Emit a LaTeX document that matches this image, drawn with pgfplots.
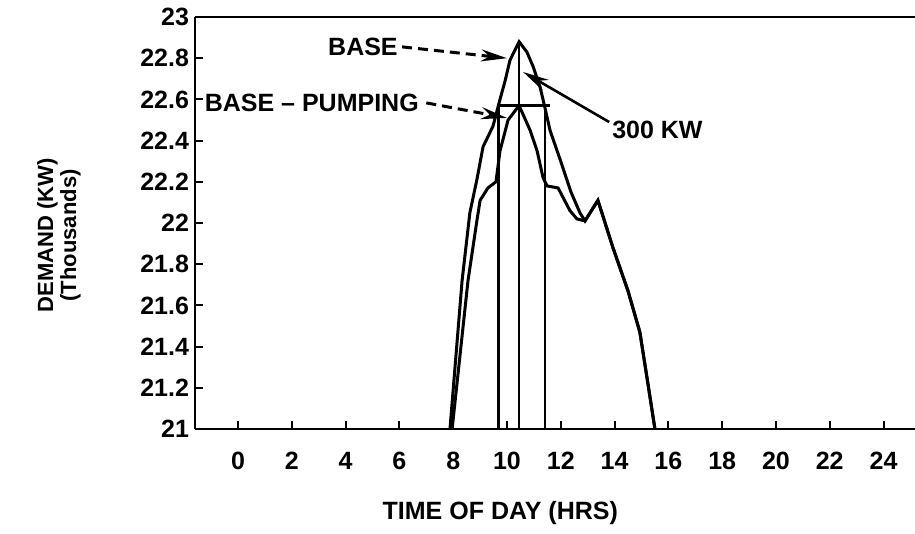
\documentclass[border=0pt]{standalone}
\usepackage{fontspec}
\setmainfont{Liberation Sans}
\usepackage{pgfplots}
\pgfplotsset{compat=1.18}
\usetikzlibrary{arrows.meta}

\pgfplotstableread{
h d
7.88 21.00
8.33 21.72
8.62 22.05
8.88 22.21
9.11 22.37
9.48 22.47
9.74 22.60
9.93 22.69
10.11 22.79
10.45 22.88
10.74 22.83
10.97 22.76
11.23 22.66
11.41 22.56
11.60 22.45
11.97 22.31
12.38 22.15
12.71 22.05
12.90 22.01
13.38 22.11
13.94 21.88
14.50 21.67
14.94 21.47
15.24 21.22
15.50 21.00
}\base

\pgfplotstableread{
h d
7.96 21.00
8.55 21.72
8.88 22.01
9.00 22.11
9.29 22.17
9.59 22.20
9.74 22.35
10.04 22.50
10.45 22.57
10.86 22.45
11.12 22.35
11.34 22.22
11.49 22.18
11.90 22.17
12.34 22.06
12.60 22.02
12.90 22.01
13.38 22.11
13.94 21.88
14.50 21.67
14.94 21.47
15.24 21.22
15.50 21.00
}\pumping

\begin{document}
\begin{tikzpicture}
\begin{axis}[
  width=360bp, height=206bp, scale only axis,
  xmin=-1.6, xmax=25.17, ymin=21, ymax=23,
  axis x line*=box, axis y line*=left,
  xtick={0,2,...,24},
  ytick={21,21.2,21.4,21.6,21.8,22,22.2,22.4,22.6,22.8,23},
  xtick pos=left, ytick pos=left,
  tick align=inside, major tick length=4bp,
  axis line style={line width=1.2bp, black},
  tick style={line width=1bp, black},
  /pgf/number format/assume math mode=true,
  tick label style={font=\fontsize{12.5bp}{14bp}\selectfont\bfseries},
  xticklabel style={yshift=-8bp},
  yticklabel style={xshift=0.5bp},
  xlabel={TIME OF DAY (HRS)},
  every axis x label/.style={at={(axis description cs:0.424,-0.204)},anchor=center,font=\fontsize{12.5bp}{14bp}\selectfont\bfseries},
  ylabel={DEMAND (KW)\\(Thousands)},
  every axis y label/.style={at={(axis description cs:-0.189,0.47)},rotate=90,anchor=center,align=center,font=\fontsize{11bp}{11.5bp}\selectfont\bfseries},
  clip=false,
]
\coordinate (sw) at (rel axis cs:0,0);
\coordinate (ne) at (rel axis cs:1,1);
\addplot[black, line width=1.5bp] table[x=h,y=d] {\base};
\addplot[black, line width=1.5bp] table[x=h,y=d] {\pumping};
% peak bracket lines
\addplot[black, line width=1.4bp] coordinates {(9.67,21) (9.67,22.57)};
\addplot[black, line width=1.4bp] coordinates {(10.45,21) (10.45,22.88)};
\addplot[black, line width=1.4bp] coordinates {(11.41,21) (11.41,22.57)};
\addplot[black, line width=1.4bp] coordinates {(9.67,22.57) (11.60,22.57)};
% annotations
\node[anchor=east, inner sep=0pt, font=\fontsize{12.5bp}{14bp}\selectfont\bfseries] at (axis cs:5.95,22.855) {BASE};
\draw[black, line width=1.5bp, dash pattern=on 5bp off 3bp, -{Stealth[length=13bp,width=6bp]}] (axis cs:6.1,22.855) -- (axis cs:10.0,22.80);
\node[anchor=west, inner sep=0pt, font=\fontsize{12.5bp}{14bp}\selectfont\bfseries] at (axis cs:-1.25,22.583) {BASE -- PUMPING};
\draw[black, line width=1.5bp, dash pattern=on 5bp off 3bp, -{Stealth[length=13bp,width=6bp]}] (axis cs:7.0,22.583) -- (axis cs:10.0,22.51);
\node[anchor=west, inner sep=0pt, font=\fontsize{12.5bp}{14bp}\selectfont\bfseries] at (axis cs:13.9,22.45) {300 KW};
\draw[black, line width=1.3bp, -{Stealth[length=13bp,width=6bp]}] (axis cs:13.8,22.49) -- (axis cs:10.6,22.733);
\end{axis}
\pgfresetboundingbox
\path (sw) ++(-97.5bp,-52.5bp) rectangle ([yshift=8.5bp]ne);
\end{tikzpicture}
\end{document}
